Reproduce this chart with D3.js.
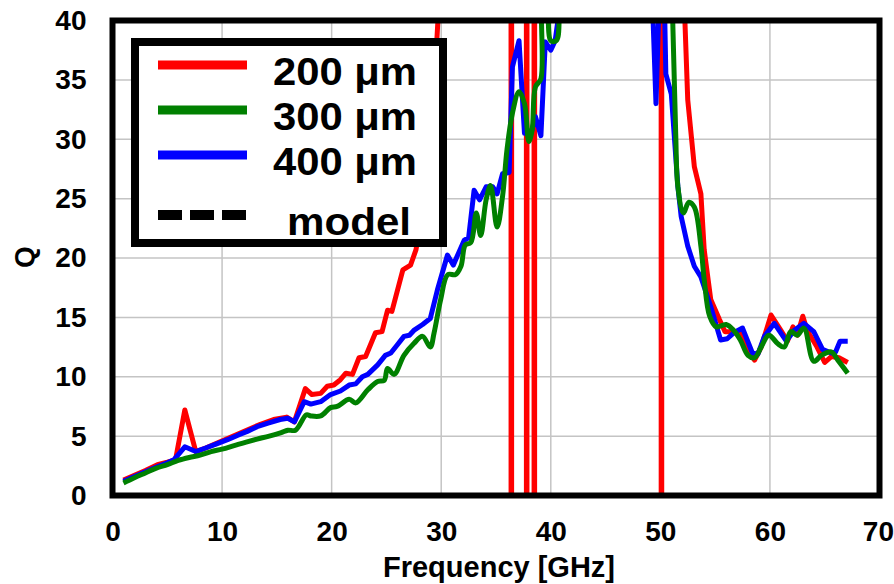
<!DOCTYPE html>
<html>
<head>
<meta charset="utf-8">
<script src="https://cdn.jsdelivr.net/npm/d3@7"></script>
<style>
  html, body { margin: 0; padding: 0; background: #fff; }
  svg { display: block; }
  text { font-family: "Liberation Sans", Arial, sans-serif; font-weight: bold; fill: #000; }
</style>
</head>
<body>
<svg id="chart" width="894" height="584"></svg>
<script>
// ---------------- data ----------------
const xTicks = [0, 10, 20, 30, 40, 50, 60, 70];
const yTicks = [0, 5, 10, 15, 20, 25, 30, 35, 40];
const seriesNames = ["200 \u03bcm", "300 \u03bcm", "400 \u03bcm", "model"];
const seriesColors = ["#ff0000", "#008000", "#0000ff", "#000000"];

// [frequency GHz, Q]
const q200 = [
  [1.0,1.3],[2,1.7],[3,2.1],[4.1,2.6],[5.0,2.8],[5.75,3.0],[6.6,7.2],[7.6,3.7],[8.5,4.0],[9.5,4.4],
  [10.5,4.8],[11.5,5.2],[12.5,5.6],[13.5,6.0],[14.7,6.4],[15.9,6.6],[16.6,6.2],[17.6,9.0],[18.2,8.5],
  [19.0,8.6],[19.6,9.2],[20.2,9.3],[20.8,9.75],[21.3,10.3],[21.9,10.2],[22.5,11.6],[23.1,11.7],[24.0,13.7],
  [24.6,13.8],[25.1,15.6],[25.5,15.5],[26.5,19.0],[27.2,19.4],[27.7,20.7],[28.3,24.0],[28.9,29.0],
  [29.4,35.0],[30.0,45],[30.3,300],
  [36.35,300],[36.4,-300],[36.45,300],
  [37.75,300],[37.8,-300],[37.85,300],
  [38.45,300],[38.5,-300],[38.55,300],
  [50.05,300],[50.1,-300],[50.15,300],
  [51.9,60],[52.2,41],[52.5,33.3],[53.1,27.7],[53.7,25.4],[54.0,20.7],[54.6,16.5],[55.4,14.8],[55.9,13.8],
  [56.5,13.8],[57.2,13.8],[58.0,12.3],[58.6,11.4],[59.2,12.5],[60.1,15.2],[61.0,13.9],[61.6,13.0],
  [62.1,14.2],[62.5,13.5],[63.0,15.1],[63.4,13.9],[64.3,12.5],[65.0,11.2],[65.6,11.7],[66.3,11.6],[67.1,11.2]
];
const q400 = [
  [1.0,1.2],[2,1.6],[3,2.0],[4,2.4],[5.0,2.75],[5.6,3.0],[6.6,4.1],[7.6,3.7],[8.5,4.0],[9.5,4.35],
  [10.5,4.7],[11.5,5.1],[12.3,5.4],[13.2,5.8],[14.2,6.1],[15.3,6.4],[16.0,6.5],[16.6,6.2],[17.5,7.9],
  [18.1,7.7],[19.0,7.9],[19.9,8.5],[20.8,8.8],[21.6,9.3],[22.2,9.4],[22.8,10.0],[23.3,10.2],[24.2,11.0],
  [24.9,11.8],[25.4,12.0],[26.0,12.7],[26.6,13.4],[27.1,13.5],[27.5,13.9],[28.3,14.4],[29.0,14.9],
  [29.65,17.3],[30.57,20.25],[31.1,19.4],[32.1,21.5],[32.5,21.7],[33.0,25.7],[33.5,24.9],[34.1,26.0],
  [34.7,26.0],[35.1,25.4],[35.6,27.1],[36.2,27.2],[36.5,36.1],[37.1,38.3],[37.6,30.5],[38.2,30.5],
  [38.6,31.9],[39.1,30.3],[39.5,38.2],[40.0,37.5],[40.4,38.3],[40.8,41],[41.2,60],
  [49.0,60],[49.3,41],[49.6,33.0],[50.0,45],[50.3,45],[50.5,35.5],[51.0,33.8],[51.6,26.0],[51.9,23.5],
  [52.5,21.0],[53.1,19.3],[53.7,18.4],[54.6,15.9],[55.5,13.1],[56.1,13.2],[56.7,13.7],[57.5,14.1],
  [58.4,12.0],[58.9,11.9],[59.5,13.4],[60.4,14.5],[61.5,13.0],[62.2,13.9],[63.1,14.5],[64.0,13.8],
  [64.8,12.3],[65.6,12.0],[66.0,12.1],[66.4,13.0],[67.1,13.0]
];
const q300 = [
  [1.0,1.06],[2,1.5],[3,1.9],[4,2.3],[5.0,2.6],[6,2.95],[7,3.2],[8.0,3.4],[9,3.7],[10,3.9],[11.1,4.2],
  [12.2,4.5],[13.2,4.75],[14.3,5.0],[15.4,5.3],[16.0,5.5],[16.7,5.5],[17.7,6.8],[18.1,6.7],[19.0,6.7],
  [19.9,7.4],[20.5,7.5],[21.6,8.1],[22.2,7.8],[23.3,8.9],[24.2,9.6],[24.8,9.7],[25.1,10.7],[25.7,10.2],
  [26.6,11.8],[27.5,12.8],[28.3,13.4],[29.0,12.5],[29.35,13.7],[29.95,16.5],[30.6,18.6],[31.3,18.6],
  [31.8,19.3],[32.2,21.1],[32.7,21.3],[33.2,23.8],[33.6,21.9],[34.1,24.9],[34.5,26.1],[35.1,22.6],
  [35.6,25.2],[36.0,29.1],[36.5,32.2],[37.1,34.0],[37.6,33.0],[38.0,29.8],[38.3,30.8],[38.6,34.4],
  [39.1,35.1],[39.3,42],[39.6,42],[40.0,38.3],[40.5,38.3],[40.8,41],[41.2,60],
  [50.8,60],[51.1,41],[51.4,30.5],[51.6,26.0],[52.1,23.8],[52.6,24.7],[53.1,24.3],[53.7,21.0],
  [54.0,18.2],[54.5,15.1],[55.1,14.2],[56.0,14.4],[56.7,13.9],[57.3,13.1],[58.0,11.8],[58.6,11.6],
  [59.2,12.5],[59.9,13.5],[60.7,12.8],[61.3,12.5],[61.9,13.8],[62.5,13.5],[63.1,14.1],[64.0,11.3],
  [64.7,11.8],[65.6,12.1],[66.2,11.4],[67.1,10.3]
];

// ---------------- layout ----------------
const svg = d3.select("#chart");
const pLeft = 112.5, pRight = 879.5, pTop = 20.5, pBottom = 495.5;
const x = d3.scaleLinear().domain([0, 70]).range([pLeft, pRight]);
const y = d3.scaleLinear().domain([0, 40]).range([pBottom, pTop]);

svg.append("defs").append("clipPath").attr("id", "plotClip")
  .append("rect").attr("x", pLeft).attr("y", pTop).attr("width", pRight - pLeft).attr("height", pBottom - pTop);

// grid
const grid = svg.append("g");
grid.selectAll("line.gx").data(xTicks).join("line").attr("class", "gx")
  .attr("x1", d => x(d)).attr("x2", d => x(d)).attr("y1", pTop).attr("y2", pBottom)
  .attr("stroke", "#c4c4c4").attr("stroke-width", 1.5);
grid.selectAll("line.gy").data(yTicks).join("line").attr("class", "gy")
  .attr("y1", d => y(d)).attr("y2", d => y(d)).attr("x1", pLeft).attr("x2", pRight)
  .attr("stroke", "#c4c4c4").attr("stroke-width", 1.5);

// data lines
const lineLin = d3.line().x(d => x(d[0])).y(d => y(d[1]));
const lineSmooth = d3.line().x(d => x(d[0])).y(d => y(d[1])).curve(d3.curveCatmullRom.alpha(0.5));
const plot = svg.append("g").attr("clip-path", "url(#plotClip)");
plot.append("path").datum(q200).attr("d", lineLin).attr("fill", "none")
  .attr("stroke", seriesColors[0]).attr("stroke-width", 5).attr("stroke-linejoin", "round");
plot.append("path").datum(q400).attr("d", lineLin).attr("fill", "none")
  .attr("stroke", seriesColors[2]).attr("stroke-width", 5).attr("stroke-linejoin", "round");
plot.append("path").datum(q300).attr("d", lineSmooth).attr("fill", "none")
  .attr("stroke", seriesColors[1]).attr("stroke-width", 5).attr("stroke-linejoin", "round");

// frame
svg.append("rect").attr("x", pLeft).attr("y", pTop).attr("width", pRight - pLeft).attr("height", pBottom - pTop)
  .attr("fill", "none").attr("stroke", "#000").attr("stroke-width", 6);

// axes (labels only)
const xAxis = d3.axisBottom(x).tickValues(xTicks).tickSize(0).tickPadding(26);
const gx = svg.append("g").attr("transform", `translate(0,${pBottom})`).call(xAxis);
gx.select(".domain").remove();
gx.selectAll("text").style("font-size", "28px").style("font-family", "'Liberation Sans', Arial, sans-serif").style("font-weight", "bold").attr("fill", "#000");
// keep the last label inside the window
gx.selectAll(".tick").filter(d => d === 70).select("text").attr("text-anchor", "end").attr("x", 14);

const yAxis = d3.axisLeft(y).tickValues(yTicks).tickSize(0).tickPadding(26);
const gy = svg.append("g").attr("transform", `translate(${pLeft},0)`).call(yAxis);
gy.select(".domain").remove();
gy.selectAll("text").style("font-size", "28px").style("font-family", "'Liberation Sans', Arial, sans-serif").style("font-weight", "bold").attr("fill", "#000");

// axis titles
svg.append("text").attr("x", 499).attr("y", 577).attr("text-anchor", "middle")
  .style("font-size", "29px").text("Frequency [GHz]");
svg.append("text").attr("transform", "translate(24,257) rotate(-90)").attr("text-anchor", "middle")
  .attr("dominant-baseline", "central").style("font-size", "28px").text("Q");

// legend
const lg = svg.append("g");
lg.append("rect").attr("x", 135).attr("y", 42).attr("width", 308).attr("height", 201)
  .attr("fill", "#fff").attr("stroke", "#000").attr("stroke-width", 8);
const legRows = [65, 110, 155, 215];
seriesNames.forEach((name, i) => {
  lg.append("line").attr("x1", 158).attr("x2", 247).attr("y1", legRows[i]).attr("y2", legRows[i])
    .attr("stroke", seriesColors[i]).attr("stroke-width", i === 3 ? 10 : 9)
    .attr("stroke-dasharray", i === 3 ? "24,8" : null);
  lg.append("text").attr("x", i === 3 ? 287 : 273).attr("y", legRows[i] + 20)
    .attr("text-anchor", "start").style("font-size", "38px")
    .attr("textLength", i === 3 ? 124 : 144).attr("lengthAdjust", "spacingAndGlyphs")
    .text(name);
});
</script>
</body>
</html>
